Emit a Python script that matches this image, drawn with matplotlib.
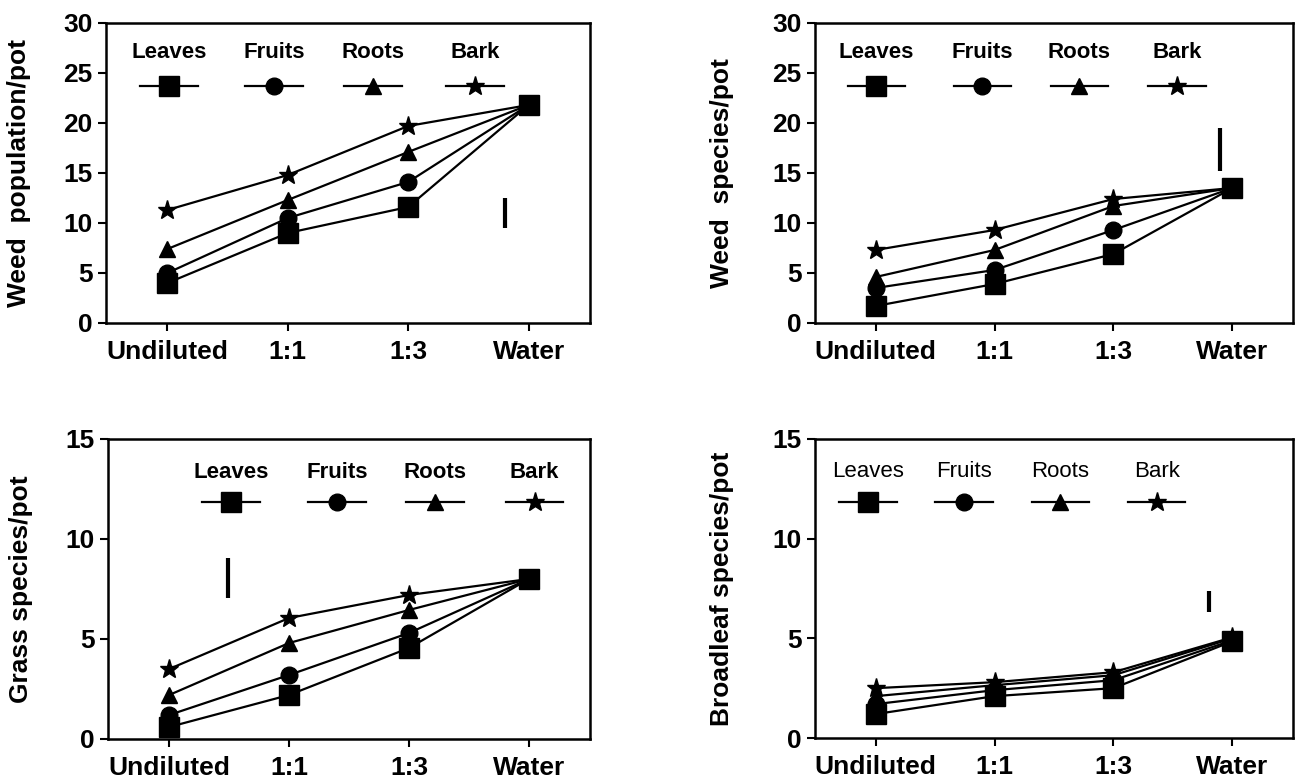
import numpy as np
import matplotlib
matplotlib.use('Agg')
import matplotlib.pyplot as plt

plt.rcParams['font.family'] = ['Liberation Sans Narrow', 'Liberation Sans', 'DejaVu Sans']

# dilution levels on the x axis
dilutions = ['Undiluted', '1:1', '1:3', 'Water']
parts = ['Leaves', 'Fruits', 'Roots', 'Bark']
markers = ['s', 'o', '^', '*']
msizes = [15, 12, 12, 14]

# weed population per pot
pop_leaves = [4.0, 9.0, 11.6, 21.8]
pop_fruits = [5.0, 10.5, 14.1, 21.8]
pop_roots = [7.4, 12.3, 17.1, 21.8]
pop_bark = [11.3, 14.8, 19.7, 21.8]

# weed species per pot
spp_leaves = [1.7, 3.9, 6.9, 13.5]
spp_fruits = [3.5, 5.3, 9.3, 13.5]
spp_roots = [4.6, 7.3, 11.7, 13.5]
spp_bark = [7.3, 9.3, 12.4, 13.5]

# grass species per pot
grass_leaves = [0.6, 2.2, 4.55, 8.0]
grass_fruits = [1.2, 3.2, 5.3, 8.0]
grass_roots = [2.2, 4.8, 6.45, 8.0]
grass_bark = [3.5, 6.05, 7.2, 8.0]

# broadleaf species per pot
broad_leaves = [1.2, 2.1, 2.5, 4.85]
broad_fruits = [1.7, 2.4, 2.9, 4.9]
broad_roots = [2.1, 2.65, 3.15, 5.0]
broad_bark = [2.5, 2.8, 3.3, 5.05]

# LSD bars: x position, bottom, top
lsd_x = [2.8, 2.9, 0.49, 2.8]
lsd_lo = [9.5, 15.2, 7.05, 6.3]
lsd_hi = [12.5, 19.5, 9.05, 7.35]

ylabels = ['Weed  population/pot', 'Weed  species/pot', 'Grass species/pot', 'Broadleaf species/pot']
ymax = [30, 30, 15, 15]
all_series = [
    [pop_leaves, pop_fruits, pop_roots, pop_bark],
    [spp_leaves, spp_fruits, spp_roots, spp_bark],
    [grass_leaves, grass_fruits, grass_roots, grass_bark],
    [broad_leaves, broad_fruits, broad_roots, broad_bark],
]

W, H = 1298, 781
fig = plt.figure(figsize=(W / 100, H / 100), dpi=100)

# axes boxes in pixels: left, top, right, bottom
boxes = [(106, 23, 590, 323), (815, 23, 1293, 323),
         (108, 439, 590, 739), (815, 439, 1293, 738)]
ylab_x = [-0.155, -0.17, -0.155, -0.17]
# legend layout (axes fraction): x centres, y of handle, y of text
leg_x = [[0.13, 0.347, 0.552, 0.762], [0.128, 0.35, 0.553, 0.757],
         [0.255, 0.475, 0.678, 0.885], [0.111, 0.312, 0.513, 0.715]]
leg_y = [0.79, 0.79, 0.79, 0.79]
leg_ty = [0.9, 0.9, 0.89, 0.89]

x = np.arange(len(dilutions))

for i, (l, t, r, b) in enumerate(boxes):
    ax = fig.add_axes([l / W, 1 - b / H, (r - l) / W, (b - t) / H])
    for s, series in enumerate(all_series[i]):
        ax.plot(x, series, color='black', lw=1.6, marker=markers[s], ms=msizes[s],
                markerfacecolor='black', markeredgecolor='black', zorder=6 - s)
    ax.plot([lsd_x[i], lsd_x[i]], [lsd_lo[i], lsd_hi[i]], color='black', lw=3, solid_capstyle='butt')

    ax.set_xlim(-0.51, 3.51)
    ax.set_ylim(0, ymax[i])
    ax.set_yticks(np.arange(0, ymax[i] + 1, 5))
    ax.set_xticks(x)
    ax.set_xticklabels(dilutions)
    ax.tick_params(axis='both', direction='out', length=6, width=1.5, labelsize=19)
    ax.tick_params(axis='x', pad=6)
    for lab in ax.get_xticklabels() + ax.get_yticklabels():
        lab.set_fontweight('bold')
    for sp in ax.spines.values():
        sp.set_linewidth(1.8)
    ax.set_ylabel(ylabels[i], fontsize=19, fontweight='bold')
    ax.yaxis.set_label_coords(ylab_x[i], 0.5)

    # legend: label above a short line with the marker
    weight = 'normal' if i == 3 else 'bold'
    for k in range(4):
        cx = leg_x[i][k]
        ax.plot([cx - 0.06, cx + 0.06], [leg_y[i], leg_y[i]], color='black', lw=1.6,
                transform=ax.transAxes)
        ax.plot([cx], [leg_y[i]], marker=markers[k], ms=msizes[k], color='black',
                transform=ax.transAxes)
        ax.text(cx, leg_ty[i], parts[k], transform=ax.transAxes, ha='center', va='center',
                fontsize=16, fontweight=weight)

fig.savefig('out.png', dpi=100)
